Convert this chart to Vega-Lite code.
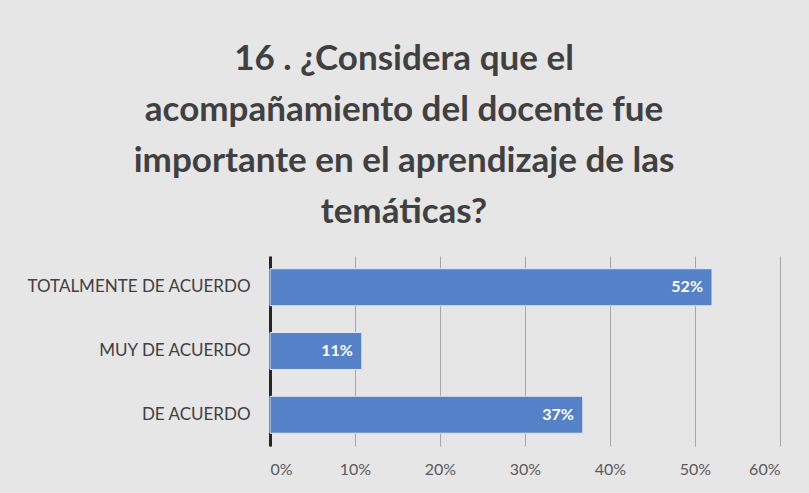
{
  "$schema": "https://vega.github.io/schema/vega-lite/v6.json",
  "width": 510,
  "height": 190,
  "autosize": "none",
  "padding": {"left": 270, "top": 256, "right": 29, "bottom": 47},
  "background": "#e6e6e6",
  "config": {"view": {"stroke": null}, "font": "Lato"},
  "title": {
    "text": ["16 . ¿Considera que el", "acompañamiento del docente fue", "importante en el aprendizaje de las", "temáticas?"],
    "font": "Lato",
    "fontSize": 35,
    "fontWeight": "bold",
    "color": "#404040",
    "lineHeight": 51,
    "anchor": "middle",
    "dx": -121,
    "offset": 26
  },
  "data": {
    "values": [
      {"respuesta": "TOTALMENTE DE ACUERDO", "valor": 0.52},
      {"respuesta": "MUY DE ACUERDO", "valor": 0.108},
      {"respuesta": "DE ACUERDO", "valor": 0.368}
    ]
  },
  "encoding": {
    "y": {
      "field": "respuesta",
      "type": "nominal",
      "sort": null,
      "scale": {"paddingInner": 0.42, "paddingOuter": 0.2},
      "axis": {
        "title": null,
        "ticks": false,
        "domainColor": "#262626",
        "domainWidth": 3,
        "labelPadding": 20,
        "labelFontSize": 17,
        "labelLimit": 400,
        "labelColor": "#404040",
        "labelFont": "Lato",
        "grid": false
      }
    }
  },
  "layer": [
    {
      "mark": {"type": "bar", "fill": "#5581C9", "stroke": "#e2e8f3", "strokeWidth": 1},
      "encoding": {
        "x": {
          "field": "valor",
          "type": "quantitative",
          "scale": {"domain": [0, 0.6], "nice": false},
          "axis": {
            "title": null,
            "format": ".0%",
            "values": [0, 0.1, 0.2, 0.3, 0.4, 0.5, 0.6],
            "grid": true,
            "gridColor": "#a6a6a6",
            "gridWidth": 1,
            "domain": false,
            "ticks": false,
            "labelPadding": 15,
            "labelFontSize": 16,
            "labelColor": "#595959",
            "labelFont": "Lato"
          }
        }
      }
    },
    {
      "mark": {"type": "text", "align": "right", "dx": -9, "color": "white", "fontWeight": "bold", "fontSize": 16, "font": "Lato"},
      "encoding": {
        "x": {"field": "valor", "type": "quantitative"},
        "text": {"field": "valor", "type": "quantitative", "format": ".0%"}
      }
    }
  ]
}
